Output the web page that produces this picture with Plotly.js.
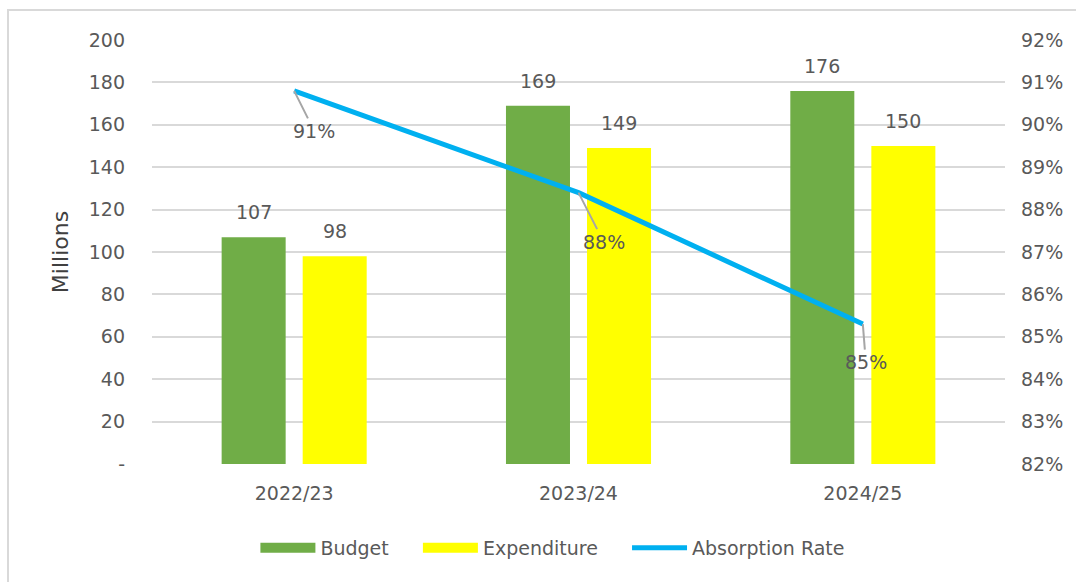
<!DOCTYPE html>
<html>
<head>
<meta charset="utf-8">
<script src="https://cdn.plot.ly/plotly-3.0.1.min.js"></script>
<style>html,body{margin:0;padding:0;background:#fff;}#chart{width:1076px;height:582px;}</style>
</head>
<body>
<div id="chart"></div>
<script>
const categories = ["2022/23", "2023/24", "2024/25"];
const budget = [107, 169, 176];
const expenditure = [98, 149, 150];
const absorptionRate = [0.908, 0.884, 0.853];
const leftTickVals = [0, 20, 40, 60, 80, 100, 120, 140, 160, 180, 200];
const leftTickText = ["-", "20", "40", "60", "80", "100", "120", "140", "160", "180", "200"];
const seriesNames = ["Budget", "Expenditure", "Absorption Rate"];
const rateLabelOffsets = [[20, 40], [25, 49], [3, 38]];

const FONT = "DejaVu Sans, Liberation Sans, sans-serif";
const GREY = "#595959";
const GREEN = "#70AD47", YELLOW = "#FFFF00", BLUE = "#00B0F0";
const PAD = "\u00A0\u00A0\u00A0\u00A0";

const W = 1076, H = 582;
const margin = {l: 152, r: 71, t: 40, b: 118};
const bargap = 0.43, bargroupgap = 0.21;
// pixel offset of each grouped bar from its category centre (derived from layout)
const catWidthPx = (W - margin.l - margin.r) / categories.length;
const barShift = catWidthPx * (1 - bargap) / 4;

const traces = [
  {type: "bar", name: seriesNames[0], x: categories, y: budget, marker: {color: GREEN}, showlegend: false},
  {type: "bar", name: seriesNames[1], x: categories, y: expenditure, marker: {color: YELLOW}, showlegend: false},
  {type: "scatter", mode: "lines", name: seriesNames[0] + PAD, x: [null], y: [null], line: {color: GREEN, width: 12}, hoverinfo: "skip"},
  {type: "scatter", mode: "lines", name: seriesNames[1] + PAD, x: [null], y: [null], line: {color: YELLOW, width: 12}, hoverinfo: "skip"},
  {type: "scatter", mode: "lines", name: seriesNames[2], x: categories, y: absorptionRate, yaxis: "y2",
   line: {color: BLUE, width: 5}}
];

const annotations = [];
absorptionRate.forEach((v, i) => annotations.push({
  x: categories[i], y: v, xref: "x", yref: "y2",
  text: Math.round(v * 100) + "%",
  showarrow: true, arrowhead: 0, arrowwidth: 2, arrowcolor: "#A6A6A6",
  ax: rateLabelOffsets[i][0], ay: rateLabelOffsets[i][1],
  font: {family: FONT, size: 19, color: GREY}
}));
[[budget, -1], [expenditure, 1]].forEach(([series, side]) => series.forEach((v, i) => annotations.push({
  x: categories[i], y: v, xref: "x", yref: "y",
  text: String(v), showarrow: false, yanchor: "bottom",
  xshift: side * barShift, yshift: 12,
  font: {family: FONT, size: 19, color: GREY}
})));

const layout = {
  width: W, height: H, margin: margin,
  paper_bgcolor: "#ffffff", plot_bgcolor: "#ffffff",
  font: {family: FONT, size: 19, color: GREY},
  barmode: "group", bargap: bargap, bargroupgap: bargroupgap,
  showlegend: true,
  legend: {
    orientation: "h", x: 0.47, xanchor: "center", y: -0.198, yanchor: "middle",
    font: {family: FONT, size: 19, color: GREY},
    traceorder: "normal", itemwidth: 55
  },
  xaxis: {
    type: "category", showgrid: false, zeroline: false, showline: false,
    ticks: "", tickfont: {family: FONT, size: 19, color: GREY}, ticklabelstandoff: 16
  },
  yaxis: {
    range: [0, 200], tickvals: leftTickVals, ticktext: leftTickText,
    showgrid: true, gridcolor: "#D9D9D9", gridwidth: 2, zeroline: false, showline: false,
    ticks: "", ticklabelstandoff: 26,
    tickfont: {family: FONT, size: 19, color: GREY},
    title: {text: "Millions", font: {family: FONT, size: 22, color: "#404040"}, standoff: 14}
  },
  yaxis2: {
    overlaying: "y", side: "right", range: [0.82, 0.92], dtick: 0.01, tick0: 0.82,
    tickformat: ".0%", showgrid: false, zeroline: false, showline: false, ticks: "",
    ticklabelstandoff: 15,
    tickfont: {family: FONT, size: 19, color: GREY}
  },
  annotations: annotations,
  shapes: [{
    type: "rect", xref: "paper", yref: "paper",
    x0: -0.1688, x1: 1.09, y0: -0.29, y1: 1.0708,
    line: {color: "#D9D9D9", width: 2}, fillcolor: "rgba(0,0,0,0)", layer: "below"
  }]
};

Plotly.newPlot("chart", traces, layout, {displayModeBar: false, staticPlot: true});
</script>
</body>
</html>
